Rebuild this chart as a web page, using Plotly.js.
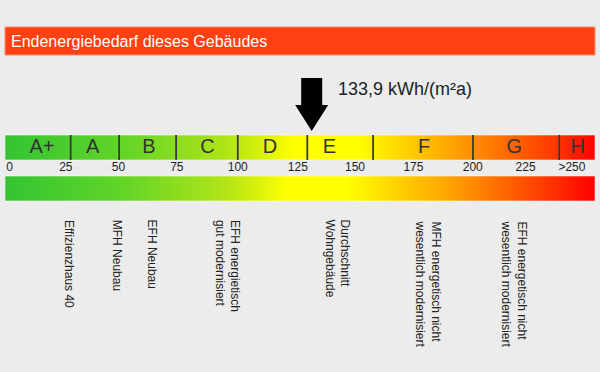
<!DOCTYPE html>
<html><head><meta charset="utf-8">
<script src="https://cdn.plot.ly/plotly-3.0.1.min.js"></script>
<style>html,body{margin:0;padding:0;background:#ebeceb;} #chart{width:600px;height:372px;}</style>
</head><body><div id="chart"></div>
<script>
const titleText = 'Endenergiebedarf dieses Gebäudes';
const consumptionValue = 133.9;
const consumptionUnit = ' kWh/(m²a)';
const arrowPosition = 130.4;
const scaleStart = -1.94;
const scaleEnd = 252.64;
const classNames = ['A+', 'A', 'B', 'C', 'D', 'E', 'F', 'G', 'H'];
const classLabelPositions = [14.0, 35.9, 60.2, 85.4, 112.4, 138.0, 178.9, 217.8, 245.2];
const classBoundaries = [26.4, 47.3, 71.9, 98.5, 128.5, 156.9, 200.0, 237.2];
const tickPositions = [0, 24.3, 47.0, 72.2, 98.5, 124.4, 149.1, 174.3, 199.9, 222.7, 242.7];
const tickLabels = ['0', '25', '50', '75', '100', '125', '150', '175', '200', '225', '>250'];
const referenceNames = ['Effizienzhaus 40', 'MFH Neubau', 'EFH Neubau',
  'EFH energietisch<br>gut modernisiert', 'Durchschnitt<br>Wohngebäude',
  'MFH energetisch nicht<br>wesentlich modernisiert', 'EFH energetisch nicht<br>wesentlich modernisiert'];
const referencePositions = [25.7, 46.7, 61.9, 93.9, 141.5, 180.6, 217.7];

// ---- styling / layout constants ----
const FONT = 'Liberation Sans, Arial, Helvetica, sans-serif';
const BG = '#ebeceb';
const Y = { titleTop: 27, titleBottom: 55, barTop: 135, barBottom: 160, tickY: 168,
            grad2Top: 176, grad2Bottom: 201, labelTop: 218, arrowTip: 131, valueY: 89 };
const classScale = [[0, '#33c433'], [0.2, '#62d527'], [0.38, '#b2e516'], [0.49, '#ffff00'],
                    [0.6, '#ffff00'], [0.8, '#ff8a00'], [0.94, '#ff3300'], [1, '#ff0000']];
const bottomScale = [[0, '#33c433'], [0.2, '#62d527'], [0.37, '#b0e418'], [0.48, '#ffff00'],
                     [0.58, '#ffff00'], [0.76, '#ff9f00'], [0.9, '#ff4400'], [1, '#ff0000']];

function rectTrace(y0, y1, scale) {
  return {
    x: [scaleStart, scaleEnd, scaleEnd, scaleStart, scaleStart],
    y: [y0, y0, y1, y1, y0],
    mode: 'lines', fill: 'toself',
    line: { color: 'rgba(255,255,255,0.55)', width: 1 },
    fillgradient: { type: 'horizontal', colorscale: scale },
    hoverinfo: 'skip', showlegend: false
  };
}

const sepX = [], sepY = [];
classBoundaries.forEach(b => { sepX.push(b, b, null); sepY.push(Y.barTop, Y.barBottom, null); });

const traces = [
  rectTrace(Y.barTop, Y.barBottom, classScale),
  rectTrace(Y.grad2Top, Y.grad2Bottom, bottomScale),
  { x: sepX, y: sepY, mode: 'lines', line: { color: '#3a3a3a', width: 1.8 }, hoverinfo: 'skip', showlegend: false },
  { x: classLabelPositions, y: classNames.map(() => (Y.barTop + Y.barBottom) / 2), text: classNames,
    mode: 'text', textposition: 'middle center', textfont: { family: FONT, size: 20, color: '#333333' },
    hoverinfo: 'skip', showlegend: false },
  { x: tickPositions, y: tickLabels.map(() => Y.tickY), text: tickLabels,
    mode: 'text', textposition: 'middle center', textfont: { family: FONT, size: 12, color: '#222222' },
    hoverinfo: 'skip', showlegend: false }
];

const annotations = [
  { xref: 'paper', yref: 'y', x: 0.0075, y: (Y.titleTop + Y.titleBottom) / 2, xanchor: 'left', yanchor: 'middle',
    text: titleText, showarrow: false, font: { family: FONT, size: 16, color: '#ffffff' } },
  { xref: 'x', yref: 'y', x: arrowPosition, xshift: 24.5, y: Y.valueY, xanchor: 'left', yanchor: 'middle',
    text: consumptionValue.toFixed(1).replace('.', ',') + consumptionUnit, showarrow: false,
    font: { family: FONT, size: 18, color: '#222222' } }
];
referenceNames.forEach((n, i) => annotations.push({
  xref: 'x', yref: 'y', x: referencePositions[i], y: Y.labelTop, xanchor: 'center', yanchor: 'top',
  text: n, textangle: 90, align: 'left', showarrow: false, font: { family: FONT, size: 12, color: '#222222' }
}));

const shapes = [
  { type: 'rect', xref: 'paper', yref: 'y', x0: 0, x1: 1, y0: Y.titleTop, y1: Y.titleBottom,
    fillcolor: '#ff4012', line: { color: '#ff8a6a', width: 1 }, layer: 'below' },
  { type: 'path', xref: 'x', yref: 'y', xsizemode: 'pixel', ysizemode: 'pixel',
    xanchor: arrowPosition, yanchor: Y.arrowTip,
    path: 'M0,0 L-16.5,26 L-10.5,26 L-10.5,53 L10.5,53 L10.5,26 L16.5,26 Z',
    fillcolor: '#000000', line: { width: 0 } }
];

const layout = {
  width: 600, height: 372,
  margin: { l: 5, r: 5, t: 0, b: 0, pad: 0 },
  paper_bgcolor: BG, plot_bgcolor: BG,
  xaxis: { range: [scaleStart, scaleEnd], visible: false, fixedrange: true },
  yaxis: { range: [372, 0], visible: false, fixedrange: true },
  showlegend: false,
  annotations: annotations,
  shapes: shapes
};

Plotly.newPlot('chart', traces, layout, { staticPlot: true, displayModeBar: false });
</script>
</body></html>
